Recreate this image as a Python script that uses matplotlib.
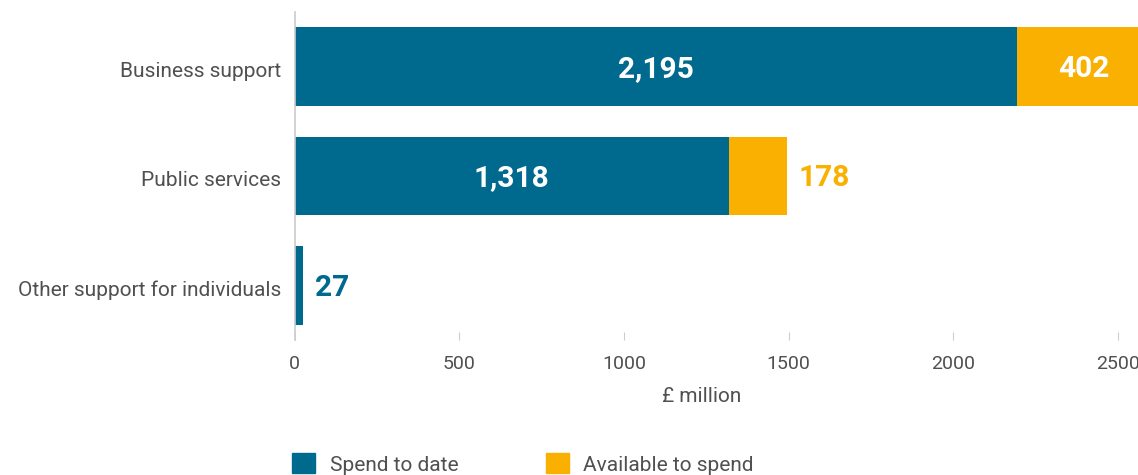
import matplotlib.pyplot as plt
import matplotlib.transforms as mtransforms
from matplotlib.patches import Patch

categories = ["Business support", "Public services", "Other support for individuals"]
spend_to_date = [2195, 1318, 27]
available = [402, 178, 0]
x_ticks = [0, 500, 1000, 1500, 2000, 2500]

blue = "#006a8e"
orange = "#f9b000"
grey = "#505050"

plt.rcParams["font.family"] = ["Roboto", "DejaVu Sans"]

fig = plt.figure(figsize=(11.38, 4.75), dpi=100)
ax = fig.add_axes([294.5 / 1138, 135 / 475, 1 - 294.5 / 1138, 328 / 475])

y = list(range(len(categories)))
b1 = ax.barh(y, spend_to_date, height=0.72, color=blue)
b2 = ax.barh(y, available, left=spend_to_date, height=0.72, color=orange)

# value labels: inside when the segment is wide, otherwise just outside
for i in y:
    s = spend_to_date[i]
    a = available[i]
    if s > 200:
        ax.text(s / 2, i + 0.02, f"{s:,}", ha="center", va="center", color="white",
                fontsize=21.5, fontweight="bold")
    else:
        ax.annotate(f"{s:,}", (s, i + 0.02), xytext=(8, 0), textcoords="offset points",
                    ha="left", va="center", color=blue, fontsize=21.5, fontweight="bold")
    if a > 0:
        if a > 300:
            ax.text(s + a / 2, i + 0.02, f"{a:,}", ha="center", va="center", color="white",
                    fontsize=21.5, fontweight="bold")
        else:
            ax.annotate(f"{a:,}", (s + a, i + 0.02), xytext=(8, 0), textcoords="offset points",
                        ha="left", va="center", color=orange, fontsize=21.5, fontweight="bold")

ax.set_xlim(0, 2561)
ax.set_ylim(2.5, -0.5)
ax.set_yticks(y)
ax.set_yticklabels(categories)
ax.set_xticks(x_ticks)
ax.set_xticklabels([str(t) for t in x_ticks])
ax.set_xlabel("£ million", fontsize=15, color=grey)
ax.xaxis.set_label_coords((702 - 294.5) / 843.5, -(397 - 340) / 328, transform=ax.transAxes)
ax.xaxis.label.set_va("center")

for side in ["top", "right", "bottom"]:
    ax.spines[side].set_visible(False)
ax.spines["left"].set_color("#cccccc")
ax.spines["left"].set_linewidth(1.2)

ax.tick_params(axis="y", length=0, pad=9.5, labelsize=15, labelcolor=grey)
ax.tick_params(axis="x", direction="in", length=6, width=0.8, color="#cccccc",
               pad=11, labelsize=14, labelcolor=grey)
# nudge category labels down a little
shift = mtransforms.ScaledTranslation(0, -3 / 100, fig.dpi_scale_trans)
for lab in ax.get_yticklabels():
    lab.set_transform(lab.get_transform() + shift)

handles = [Patch(color=blue, label="Spend to date"), Patch(color=orange, label="Available to spend")]
fig.legend(handles=handles, ncol=2, loc="center left", bbox_to_anchor=(292 / 1138, 11 / 475),
           frameon=False, fontsize=15, labelcolor=grey, handlelength=1.1, handleheight=1.1,
           handletextpad=0.7, columnspacing=4.2, borderpad=0, borderaxespad=0)

fig.savefig("out.png", dpi=100)
